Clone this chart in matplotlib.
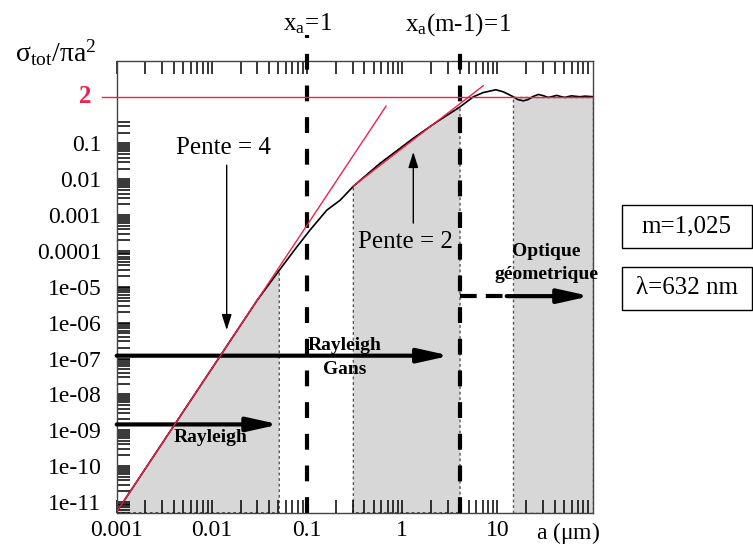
import numpy as np
import matplotlib
matplotlib.use("Agg")
from matplotlib import pyplot as plt
from matplotlib.ticker import FixedLocator, LogLocator, NullFormatter
from matplotlib.patches import Rectangle

plt.rcParams["font.family"] = ["Liberation Serif", "DejaVu Serif"]
plt.rcParams["mathtext.fontset"] = "custom"
plt.rcParams["mathtext.rm"] = "Liberation Serif"
plt.rcParams["mathtext.it"] = "Liberation Serif:italic"

# --- data ---
a_um = [0.001, 0.003, 0.01, 0.03, 0.051, 0.078, 0.107, 0.161, 0.222, 0.306,
        0.583, 1.3, 2.3, 4.04, 5.57, 7.05, 9.6, 11.5, 12.9, 14.7, 16.4, 18.7,
        20.9, 23.5, 26.9, 30.2, 34.2, 37.3, 41.9, 46.5, 51.2, 55.0, 60.1,
        66.0, 73.6, 83.0, 100.0]
sigma = [5.3e-12, 4.3e-10, 5.3e-8, 4.3e-6, 2.9e-5, 1.3e-4, 3.8e-4, 1.38e-3,
         2.6e-3, 6.4e-3, 0.0277, 0.138, 0.40, 1.05, 2.0, 2.62, 3.15, 2.76,
         2.38, 2.0, 1.67, 1.55, 1.67, 2.03, 2.33, 2.16, 1.92, 2.03, 2.19,
         2.03, 1.92, 2.03, 2.13, 2.07, 2.01, 2.09, 2.02]

pente4_a = [0.001, 0.675]
pente4_s = [5.3e-12, 1.1]
pente2_a = [0.304, 7.1]
pente2_s = [6.4e-3, 4.1]

a_xa1 = 0.1006   # x_a = 1
a_xam1 = 4.02    # x_a (m-1) = 1

rayleigh_zone = (0.001, 0.051)
rg_zone = (0.306, 4.04)
geo_zone = (14.7, 100.0)

ytick_vals = [1e-11, 1e-10, 1e-9, 1e-8, 1e-7, 1e-6, 1e-5, 1e-4, 1e-3, 1e-2, 1e-1]
ytick_labels = ["1e-11", "1e-10", "1e-09", "1e-08", "1e-07", "1e-06", "1e-05",
                "0.0001", "0.001", "0.01", "0.1"]
xtick_vals = [0.001, 0.01, 0.1, 1, 10]
xtick_labels = ["0.001", "0.01", "0.1", "1", "10"]

red = "#f2204c"
grey = "#d7d7d7"
ymin, ymax = 5e-12, 20

fig = plt.figure(figsize=(7.53, 5.46), dpi=100)
ax = fig.add_axes([0.155, 0.061, 0.6321, 0.8273])
ax.set_xscale("log")
ax.set_yscale("log")
ax.set_xlim(0.001, 100)
ax.set_ylim(ymin, ymax)

a = np.array(a_um)
s = np.array(sigma)

# shaded regimes
edge = dict(facecolor=grey, edgecolor="#555555", linestyle=(0, (2, 2)), lw=1)
for lo, hi in [rayleigh_zone, rg_zone]:
    sel = (a >= lo) & (a <= hi)
    ax.fill_between(a[sel], s[sel], ymin, **edge)
ax.fill_between(list(geo_zone), [2, 2], ymin, **edge)

# x_a = 1 and x_a(m-1) = 1
for xv, ytop in [(a_xa1, 105), (a_xam1, 88)]:
    ax.plot([xv, xv], [ymin, ytop], color="k", lw=3, ls=(0, (3.8, 3.8)),
            clip_on=False, zorder=4)

ax.plot(a, s, color="k", lw=1.2, zorder=5)

# reference lines (drawn over the curve)
ax.axhline(2, xmin=-0.0315, xmax=1, color=red, lw=1, clip_on=False, zorder=6)
ax.plot(pente4_a, pente4_s, color=red, lw=1, zorder=6)
ax.plot(pente2_a, pente2_s, color=red, lw=1, zorder=6)

# labels over dashed lines
ax.text(a_xa1, 139, r"$\mathrm{x_a\!=\!1}$", ha="center", va="baseline",
        fontsize=18, clip_on=False)
ax.text(a_xam1 * 0.97, 139, r"$\mathrm{x_a(m\text{-}1)\!=\!1}$", ha="center",
        va="baseline", fontsize=18, clip_on=False)

# slope arrows
thin = dict(arrowstyle="-|>,head_length=0.95,head_width=0.3", lw=1, color="k",
            shrinkA=0, shrinkB=0, mutation_scale=10)
ax.text(0.0131, 0.074, "Pente = 4", ha="center", va="center", fontsize=18)
ax.annotate("", xy=(0.0143, 6.2e-7), xytext=(0.0143, 0.0248), arrowprops=thin)
ax.text(1.09, 1.77e-4, "Pente = 2", ha="center", va="center", fontsize=18)
ax.annotate("", xy=(1.305, 0.058), xytext=(1.305, 6e-4), arrowprops=thin)

# regime arrows
thick = dict(arrowstyle="-|>,head_length=1.35,head_width=0.3", lw=3, color="k",
             shrinkA=0, shrinkB=0, mutation_scale=14)
ax.annotate("", xy=(0.051, 1.45e-9), xytext=(0.001, 1.45e-9), arrowprops=thick)
ax.text(0.00978, 6.4e-10, "Rayleigh", ha="center", va="center",
        fontsize=14, fontweight="bold")
ax.annotate("", xy=(3.17, 1.2e-7), xytext=(0.001, 1.2e-7), arrowprops=thick)
ax.text(0.25, 2.3e-7, "Rayleigh", ha="center", va="center",
        fontsize=14, fontweight="bold")
ax.text(0.25, 5.0e-8, "Gans", ha="center", va="center",
        fontsize=14, fontweight="bold")
ax.plot([a_xam1, 12.5], [5.5e-6, 5.5e-6], color="k", lw=3, ls=(0, (4, 2.2)),
        zorder=4)
ax.annotate("", xy=(94, 5.5e-6), xytext=(12.5, 5.5e-6), arrowprops=thick)
ax.text(32.9, 9.6e-5, "Optique", ha="center", va="center",
        fontsize=14, fontweight="bold", clip_on=False)
ax.text(32.5, 2.19e-5, "géometrique", ha="center", va="center",
        fontsize=14, fontweight="bold", clip_on=False)

# axes styling
for sp in ax.spines.values():
    sp.set_color("#444444")
    sp.set_linewidth(1)
ax.xaxis.set_major_locator(FixedLocator(xtick_vals))
ax.set_xticklabels(xtick_labels)
ax.xaxis.set_minor_locator(LogLocator(base=10, subs=range(2, 10), numticks=50))
ax.xaxis.set_minor_formatter(NullFormatter())
ax.yaxis.set_major_locator(FixedLocator(ytick_vals))
ax.set_yticklabels(ytick_labels)
yminor = [k * 10.0 ** n for n in range(-12, 0) for k in range(2, 10)
          if ymin <= k * 10.0 ** n <= 0.4]
ax.yaxis.set_minor_locator(FixedLocator(yminor))
ax.yaxis.set_minor_formatter(NullFormatter())
ax.tick_params(which="both", direction="in", length=9.5, width=1.1,
               top=True, right=False, labelsize=17)
ax.tick_params(axis="y", pad=11)
ax.tick_params(axis="x", pad=5)

ax.text(-0.052, 2, "2", transform=ax.get_yaxis_transform(), ha="right",
        va="center", color=red, fontweight="bold", fontsize=18)
ax.text(0.881, -0.046, r"a ($\mathrm{\mu}$m)", transform=ax.transAxes,
        ha="left", va="center", fontsize=17)

fig.text(55.5 / 753, 1 - 61.7 / 546, r"$\mathrm{σ_{tot}/πa^2}$",
         ha="center", va="baseline", fontsize=20)

# parameter boxes
for label, ytop in [("m=1,025", 205), ("λ=632 nm", 266.7)]:
    fig.patches.append(Rectangle((621.7 / 753, 1 - (ytop + 43.3) / 546),
                                 130 / 753, 43.3 / 546, transform=fig.transFigure,
                                 facecolor="none", edgecolor="k", lw=1))
    fig.text(686.7 / 753, 1 - (ytop + 21.7) / 546, label, ha="center",
             va="center", fontsize=18)

fig.savefig("out.png", dpi=100)
